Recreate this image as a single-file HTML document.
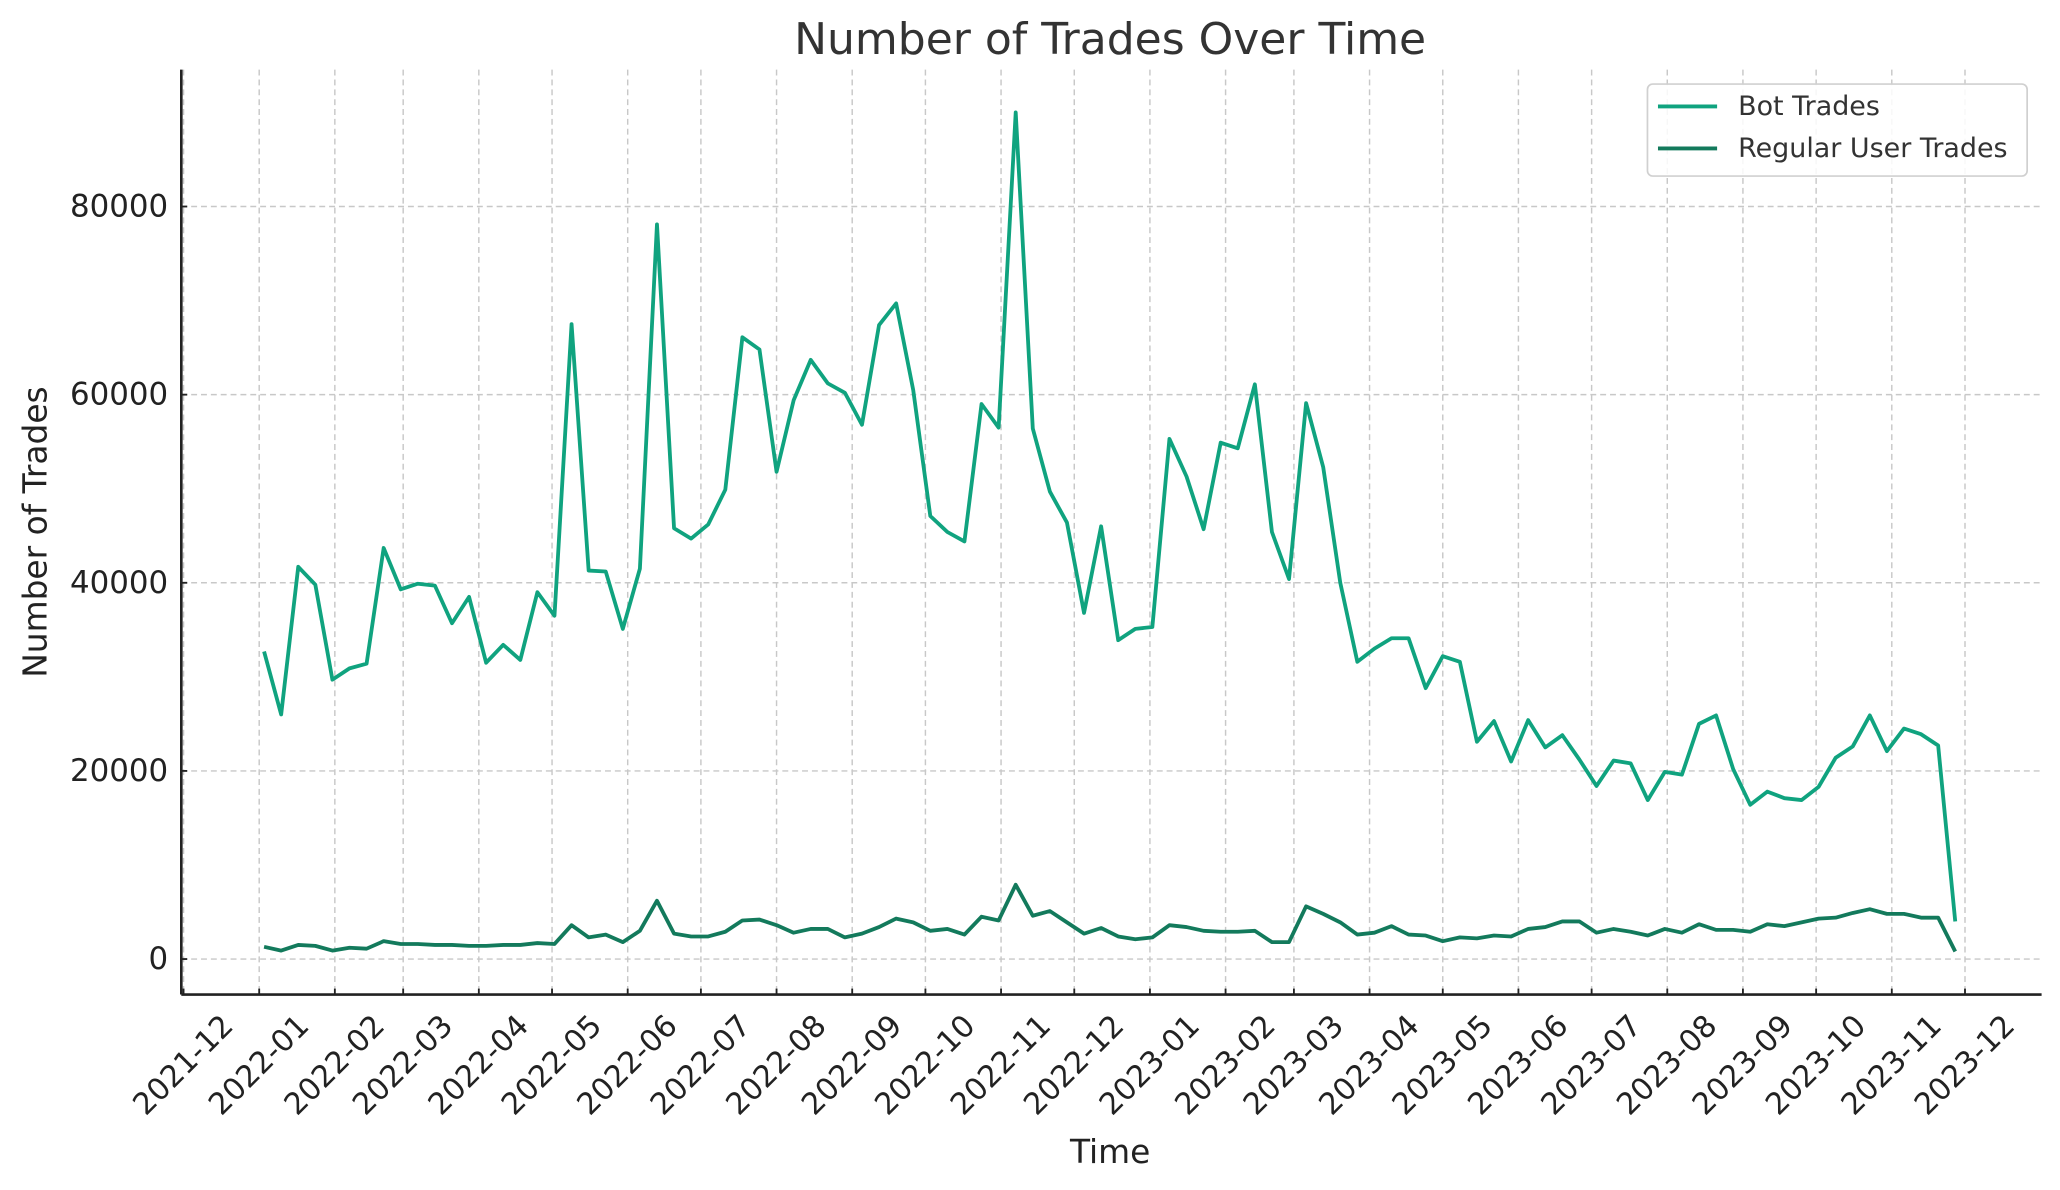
<!DOCTYPE html>
<html><head><meta charset="utf-8"><style>html,body{margin:0;padding:0;background:#fff}svg{display:block}</style></head>
<body>
<svg id="chart" width="2060" height="1190" viewBox="0 0 1568 905.8" xmlns="http://www.w3.org/2000/svg" font-family="'DejaVu Sans','Liberation Sans',sans-serif"></svg>
<script>
const startDate = "2022-01-03";
const botTrades = [32700,26000,41700,39800,29700,30900,31400,43700,39300,39900,39700,35700,38500,31500,33400,31800,39000,36500,67500,41300,41200,35100,41500,78100,45800,44700,46200,49900,66100,64800,51800,59400,63700,61200,60200,56800,67400,69700,60500,47100,45400,44400,59000,56500,90000,56400,49700,46400,36800,46000,33900,35100,35300,55300,51300,45700,54900,54300,61100,45400,40400,59100,52300,40000,31600,33000,34100,34100,28800,32200,31600,23100,25300,21000,25400,22500,23800,21200,18400,21100,20800,16900,19900,19600,25000,25900,20200,16400,17800,17100,16900,18300,21400,22600,25900,22100,24500,23900,22700,4000];
const userTrades = [1300,900,1500,1400,900,1200,1100,1900,1600,1600,1500,1500,1400,1400,1500,1500,1700,1600,3600,2300,2600,1800,3000,6200,2700,2400,2400,2900,4100,4200,3600,2800,3200,3200,2300,2700,3400,4300,3900,3000,3200,2600,4500,4100,7900,4600,5100,3900,2700,3300,2400,2100,2300,3600,3400,3000,2900,2900,3000,1800,1800,5600,4800,3900,2600,2800,3500,2600,2500,1900,2300,2200,2500,2400,3200,3400,4000,4000,2800,3200,2900,2500,3200,2800,3700,3100,3100,2900,3700,3500,3900,4300,4400,4900,5300,4800,4800,4400,4400,800];
const yTicks = [0,20000,40000,60000,80000];
const xTickLabels = ["2021-12","2022-01","2022-02","2022-03","2022-04","2022-05","2022-06","2022-07","2022-08","2022-09","2022-10","2022-11","2022-12","2023-01","2023-02","2023-03","2023-04","2023-05","2023-06","2023-07","2023-08","2023-09","2023-10","2023-11","2023-12"];

const NS = "http://www.w3.org/2000/svg";
const svg = document.getElementById('chart');
const L = 138, R = 1554, T = 53, B = 757;
const day = 86400000;
const t0 = Date.UTC(2021,11,1), t1 = Date.UTC(2023,11,1);
const X = t => 139.7 + (t - t0) / (t1 - t0) * (1495.7 - 139.7);
const Y = v => 730 - v / 20000 * 143.2;
function mk(tag, attrs, parent) {
  const e = document.createElementNS(NS, tag);
  for (const k in attrs) e.setAttribute(k, attrs[k]);
  (parent || svg).appendChild(e);
  return e;
}
const s0 = Date.parse(startDate + "T00:00:00Z");
const dates = botTrades.map((_, i) => s0 + i * 7 * day);

const grid = mk('g', {});


xTickLabels.forEach(lab => {
  const [yy, mm] = lab.split('-').map(Number);
  const x = X(Date.UTC(yy, mm - 1, 1));
  const g = mk('line', {x1:x, x2:x, y1:T, y2:B, stroke:'#c8c8c8', 'stroke-width':1.1, 'stroke-dasharray':'4.5,3'}, grid);
  
  
  const tk = mk('line', {x1:x, x2:x, y1:B, y2:B-4.5, stroke:'#222', 'stroke-width':1.4});
  
  
  const tx = mk('text', {x:x, y:811, 'font-size':23, fill:'#222', 'text-anchor':'middle', 'dominant-baseline':'central', transform:`rotate(-45 ${x} 811)`});
  tx.textContent = lab;
  
  
});
yTicks.forEach(v => {
  const y = Y(v);
  const g = mk('line', {x1:L, x2:R, y1:y, y2:y, stroke:'#c8c8c8', 'stroke-width':1.1, 'stroke-dasharray':'4.5,3'}, grid);
  
  
  const tk = mk('line', {x1:L, x2:L+4.5, y1:y, y2:y, stroke:'#222', 'stroke-width':1.4});
  
  
  const tx = mk('text', {x:128, y:y, 'font-size':23.5, fill:'#222', 'text-anchor':'end', 'dominant-baseline':'central'});
  tx.textContent = String(v);
  
  
});

const ax1 = mk('line', {x1:L, x2:L, y1:T, y2:B, stroke:'#222', 'stroke-width':2});


const ax2 = mk('line', {x1:L, x2:R, y1:B, y2:B, stroke:'#222', 'stroke-width':2});



function series(vals, color, name) {
  const d = vals.map((v, i) => (i ? 'L' : 'M') + X(dates[i]).toFixed(2) + ',' + Y(v).toFixed(2)).join(' ');
  const p = mk('path', {d:d, fill:'none', stroke:color, 'stroke-width':2.9, 'stroke-linejoin':'round'});
  
  
}
series(botTrades, '#10a37f', 'bot-trades-line');
series(userTrades, '#137a5c', 'regular-user-trades-line');

const title = mk('text', {x:845, y:30, 'font-size':33.5, fill:'#333', 'text-anchor':'middle', 'dominant-baseline':'central'});
title.textContent = 'Number of Trades Over Time';


const xt = mk('text', {x:845, y:877, 'font-size':25, fill:'#222', 'text-anchor':'middle', 'dominant-baseline':'central'});
xt.textContent = 'Time';


const yt = mk('text', {x:27, y:405, 'font-size':25, fill:'#222', 'text-anchor':'middle', 'dominant-baseline':'central', transform:'rotate(-90 27 405)'});
yt.textContent = 'Number of Trades';



const lg = mk('g', {});


mk('rect', {x:1254, y:64, width:289, height:70, rx:4, fill:'#fff', 'fill-opacity':0.85, stroke:'#d0d0d0', 'stroke-width':1.3}, lg);
[['Bot Trades', '#10a37f', 81], ['Regular User Trades', '#137a5c', 113]].forEach(([lab, c, y]) => {
  const e = mk('g', {}, lg);
  
  
  mk('line', {x1:1262, x2:1307, y1:y, y2:y, stroke:c, 'stroke-width':2.9}, e);
  const t = mk('text', {x:1323, y:y, 'font-size':20.5, fill:'#333', 'dominant-baseline':'central'}, e);
  t.textContent = lab;
});
</script>
</body></html>
